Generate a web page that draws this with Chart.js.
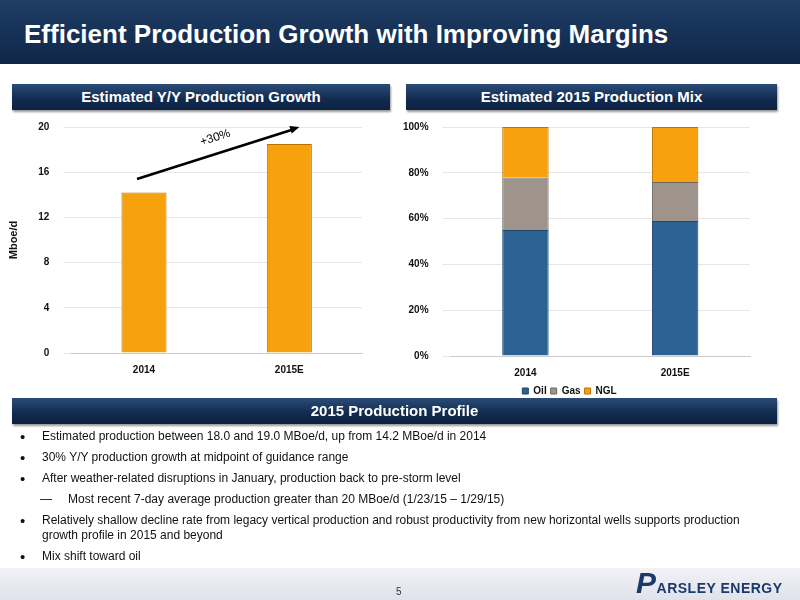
<!DOCTYPE html>
<html><head><meta charset="utf-8">
<script src="https://cdn.jsdelivr.net/npm/chart.js@4"></script>
<style>
body{margin:0;width:800px;height:600px;position:relative;background:#fff;font-family:Arial,"Liberation Sans",sans-serif;overflow:hidden}
.title{position:absolute;left:0;top:0;width:800px;height:64px;background:linear-gradient(#1f3d66,#0f2748);color:#fff;font-weight:bold;font-size:26px;line-height:68px;padding-left:24px;box-sizing:border-box}
.hdr{position:absolute;height:26px;background:linear-gradient(#2b4c78,#112a4e 60%,#0c2242);color:#fff;font-weight:bold;font-size:15px;text-align:center;line-height:26px;box-shadow:1px 2px 2px #999}
.c{position:absolute}
ul{position:absolute;left:20px;top:429px;margin:0;padding:0;list-style:none;font-size:12px;color:#111;width:750px}
li{position:relative;padding-left:22px;margin-bottom:6px;line-height:15px}
li:before{content:"•";position:absolute;left:0;font-size:15px}
li.sub{padding-left:48px}
li.sub:before{content:"—";left:20px;font-size:12px}
.foot{position:absolute;left:0;top:568px;width:800px;height:32px;background:linear-gradient(#f2f2f6,#dfe2ea)}
</style></head><body>
<div class="title">Efficient Production Growth with Improving Margins</div>
<div class="hdr" style="left:12px;top:84px;width:378px">Estimated Y/Y Production Growth</div>
<div class="hdr" style="left:406px;top:84px;width:371px">Estimated 2015 Production Mix</div>
<div class="c" style="left:3px;top:107px;width:369px;height:272px"><canvas id="c1"></canvas></div>
<div class="c" style="left:389px;top:107px;width:381px;height:299px"><canvas id="c2"></canvas></div>
<div class="hdr" style="left:12px;top:398px;width:765px">2015 Production Profile</div>
<ul>
<li>Estimated production between 18.0 and 19.0 MBoe/d, up from 14.2 MBoe/d in 2014</li>
<li>30% Y/Y production growth at midpoint of guidance range</li>
<li>After weather-related disruptions in January, production back to pre-storm level</li>
<li class="sub">Most recent 7-day average production greater than 20 MBoe/d (1/23/15 – 1/29/15)</li>
<li>Relatively shallow decline rate from legacy vertical production and robust productivity from new horizontal wells supports production growth profile in 2015 and beyond</li>
<li>Mix shift toward oil</li>
</ul>
<div class="foot"></div>
<div style="position:absolute;left:396px;top:586px;font-size:10px;color:#333">5</div>
<div style="position:absolute;left:636px;top:566px;font-weight:bold;color:#1a3a6b;font-size:14px;letter-spacing:0.5px"><span style="font-size:30px;font-style:italic">P</span>ARSLEY ENERGY</div>
<script>
const categories=["2014","2015E"];
const production=[14.2,18.5];
const oil=[55,59];
const gas=[23,17];
const ngl=[22,24];
const yTicks1=[0,4,8,12,16,20];
Chart.defaults.font.family="Arial, 'Liberation Sans', sans-serif";
Chart.defaults.font.weight="bold";
Chart.defaults.font.size=10;
Chart.defaults.color="#111";
const arrow={id:"arrow",afterDatasetsDraw(ch){const x=ch.scales.x,y=ch.scales.y,c=ch.ctx;
const x0=x.getPixelForValue(0)-7,y0=y.getPixelForValue(15.4),x1=x.getPixelForValue(1)+10,y1=y.getPixelForValue(20);
c.save();c.strokeStyle="#000";c.fillStyle="#000";c.lineWidth=2.5;c.beginPath();c.moveTo(x0,y0);c.lineTo(x1-8,y1+3);c.stroke();
const a=Math.atan2(y1-y0,x1-x0);c.beginPath();c.moveTo(x1,y1);c.lineTo(x1-10*Math.cos(a-0.4),y1-10*Math.sin(a-0.4));c.lineTo(x1-10*Math.cos(a+0.4),y1-10*Math.sin(a+0.4));c.fill();
c.translate((x0+x1)/2-2,(y0+y1)/2-12);c.rotate(a);c.font="12px Arial";c.textAlign="center";c.fillText("+30%",0,0);c.restore();}};
new Chart(document.getElementById("c1"),{type:"bar",data:{labels:categories,datasets:[{data:production,backgroundColor:"#F7A10F",borderColor:"#B87300",borderWidth:1,barPercentage:0.31,categoryPercentage:1}]},
options:{responsive:true,maintainAspectRatio:false,animation:false,layout:{padding:{top:4,right:10}},plugins:{legend:{display:false},tooltip:{enabled:false}},
scales:{x:{grid:{display:false},border:{color:"#ccc"}},y:{min:0,max:20,afterBuildTicks(s){s.ticks=yTicks1.map(v=>({value:v}));},grid:{color:"#e6e6e6"},border:{display:false},ticks:{padding:14},title:{display:true,text:"Mboe/d",font:{size:11,weight:"bold"}}}}},plugins:[arrow]});
new Chart(document.getElementById("c2"),{type:"bar",data:{labels:categories,datasets:[
{label:"Oil",data:oil,backgroundColor:"#2D6294",borderColor:"#1d4670",borderWidth:1,barPercentage:0.31,categoryPercentage:1},
{label:"Gas",data:gas,backgroundColor:"#9E948B",borderColor:"#6f665e",borderWidth:1,barPercentage:0.31,categoryPercentage:1},
{label:"NGL",data:ngl,backgroundColor:"#F7A10F",borderColor:"#B87300",borderWidth:1,barPercentage:0.31,categoryPercentage:1}]},
options:{responsive:true,maintainAspectRatio:false,animation:false,layout:{padding:{top:4,right:20}},plugins:{tooltip:{enabled:false},legend:{position:"bottom",labels:{boxWidth:6,boxHeight:6,padding:4,font:{size:10,weight:"bold"}}}},
scales:{x:{stacked:true,grid:{display:false},border:{color:"#ccc"}},y:{stacked:true,min:0,max:100,ticks:{stepSize:20,padding:14,callback:v=>v+"%"},grid:{color:"#e6e6e6"},border:{display:false}}}}});
</script>
</body></html>
